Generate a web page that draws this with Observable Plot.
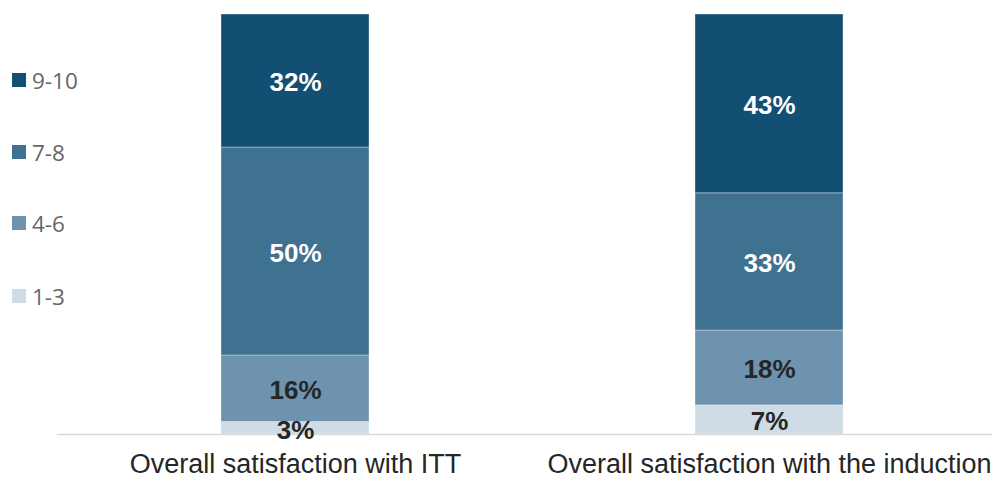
<!DOCTYPE html>
<html>
<head>
<meta charset="utf-8">
<script src="https://cdn.jsdelivr.net/npm/d3@7"></script>
<script src="https://cdn.jsdelivr.net/npm/@observablehq/plot@0.6"></script>
<style>
  html, body { margin: 0; padding: 0; background: #fff; }
  #wrap { position: relative; width: 992px; height: 479px; }
  #legend { position: absolute; left: 12px; top: 0; font-family: "Open Sans", sans-serif; font-size: 22.5px; color: #666; }
  .item { position: absolute; left: 0; display: flex; align-items: center; white-space: nowrap; height: 30px; }
  .sw { width: 14px; height: 14px; margin-right: 6px; }
</style>
</head>
<body>
<div id="wrap"><div id="legend"></div></div>
<script>
const categories = ["Overall satisfaction with ITT", "Overall satisfaction with the induction"];
const bands = ["1-3", "4-6", "7-8", "9-10"];
const ittValues = [3, 16, 50, 32];
const inductionValues = [7, 18, 33, 43];
const bandColors = ["#cfdce5", "#6d93ae", "#3f7191", "#124f73"];
const labelColors = ["#262626", "#262626", "#ffffff", "#ffffff"];
const legendOrder = ["9-10", "7-8", "4-6", "1-3"];

const series = [ittValues, inductionValues];
const data = [];
categories.forEach((c, i) => {
  bands.forEach((b, j) => data.push({cat: c, band: b, value: series[i][j], lc: labelColors[j]}));
});

const chart = Plot.plot({
  width: 992,
  height: 479,
  marginLeft: 57,
  marginRight: 0,
  marginTop: 14,
  marginBottom: 45,
  style: {fontFamily: "'Liberation Sans', Arial, sans-serif", background: "#fff"},
  x: {domain: categories, range: [220, 843], paddingInner: 0.688, paddingOuter: 0, label: null},
  y: {domain: [0, 101], axis: null},
  color: {domain: bands, range: bandColors},
  marks: [
    Plot.barY(data, {x: "cat", y: "value", fill: "band", order: bands, stroke: "#ffffff", strokeOpacity: 0.35, strokeWidth: 1}),
    Plot.ruleY([0], {stroke: "#d9d9d9", strokeWidth: 1.5}),
    Plot.axisX({tickSize: 0, tickPadding: 19, fontSize: 27, fill: "#262626", label: null}),
    Plot.text(data, Plot.stackY({x: "cat", y: "value", order: bands, z: "band", text: d => d.value + "%", fill: "lc", dy: 2, fontSize: 26, fontWeight: "bold", fontFamily: "'Liberation Sans', Arial, sans-serif"}))
  ]
});
document.getElementById("wrap").prepend(chart);

const legend = document.getElementById("legend");
const legendY = [80, 152, 223, 296];
legendOrder.forEach((b, i) => {
  const it = document.createElement("div");
  it.className = "item";
  it.style.top = (legendY[i] - 15) + "px";
  const sw = document.createElement("span");
  sw.className = "sw";
  sw.style.background = bandColors[bands.indexOf(b)];
  const tx = document.createElement("span");
  tx.textContent = b;
  it.append(sw, tx);
  legend.append(it);
});
</script>
</body>
</html>
